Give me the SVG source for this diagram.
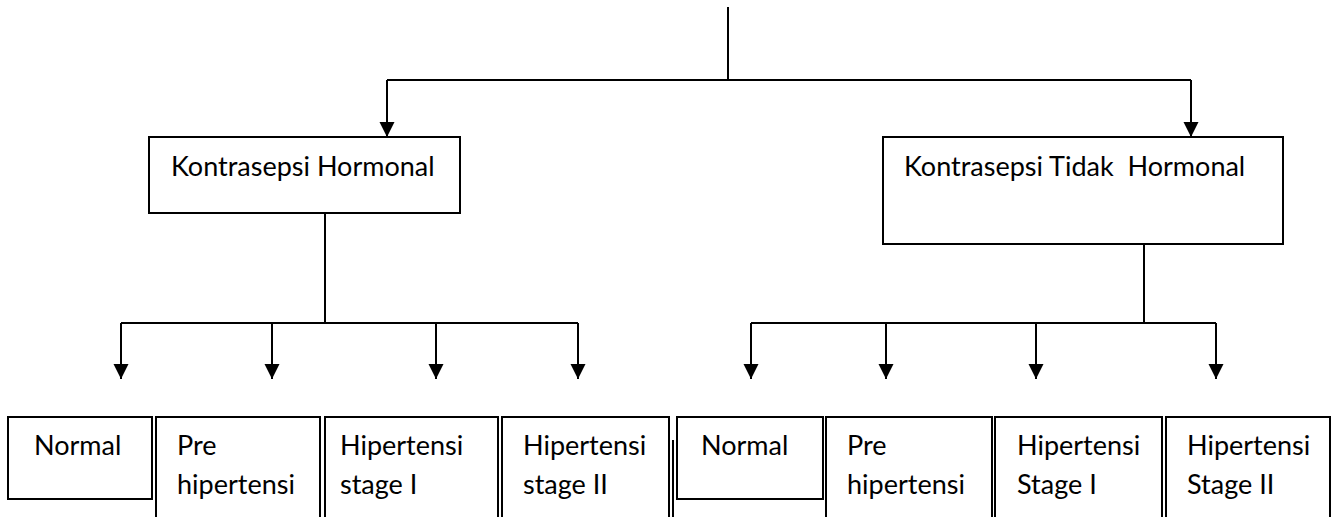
<svg xmlns="http://www.w3.org/2000/svg" width="1331" height="517" viewBox="0 0 1331 517">
<style>
.box{fill:#fff;stroke:#000;stroke-width:2}
.ln{fill:none;stroke:#000;stroke-width:2}
.arr{fill:none;stroke:#000;stroke-width:2;marker-end:url(#ah)}
text{font-family:Lato,"Liberation Sans",sans-serif;font-size:27px;fill:#000}
</style>
<defs>
<marker id="ah" markerUnits="userSpaceOnUse" markerWidth="16" markerHeight="16" refX="15" refY="7.5" orient="auto">
<path d="M0,0 L15,7.5 L0,15 z" fill="#000"/>
</marker>
</defs>
<rect width="1331" height="517" fill="#fff"/>
<g id="connectors">
<path class="ln" d="M728,7 V80 M387,80 H1191"/>
<path class="arr" d="M387,80 V137"/>
<path class="arr" d="M1191,80 V137"/>
<path class="ln" d="M325,213 V323 M121,323 H578"/>
<path class="arr" d="M121,323 V379"/>
<path class="arr" d="M272,323 V379"/>
<path class="arr" d="M436,323 V379"/>
<path class="arr" d="M578,323 V379"/>
<path class="ln" d="M1144,244 V323 M751,323 H1216"/>
<path class="arr" d="M751,323 V379"/>
<path class="arr" d="M886,323 V379"/>
<path class="arr" d="M1036,323 V379"/>
<path class="arr" d="M1216,323 V379"/>
</g>
<g id="kontrasepsi-hormonal">
<rect class="box" x="149" y="137" width="311" height="76"/>
<text x="171" y="176">Kontrasepsi Hormonal</text>
</g>
<g id="kontrasepsi-tidak-hormonal">
<rect class="box" x="883" y="137" width="400" height="107"/>
<text x="904" y="176" xml:space="preserve">Kontrasepsi Tidak  Hormonal</text>
</g>
<g id="normal-1">
<rect class="box" x="8" y="417" width="144" height="82"/>
<text x="34" y="455">Normal</text>
</g>
<g id="prehipertensi-1">
<rect class="box" x="156" y="417" width="164" height="120"/>
<text x="177" y="455">Pre</text>
<text x="177" y="494">hipertensi</text>
</g>
<g id="stage1-1">
<rect class="box" x="325" y="417" width="173" height="120"/>
<text x="340" y="455">Hipertensi</text>
<text x="340" y="494">stage I</text>
</g>
<g id="stage2-1">
<rect class="box" x="502" y="417" width="167" height="120"/>
<text x="523" y="455">Hipertensi</text>
<text x="523" y="494">stage II</text>
</g>
<g id="normal-2">
<path class="ln" d="M673,440 V520"/>
<rect class="box" x="677" y="417" width="146" height="82"/>
<text x="701" y="455">Normal</text>
</g>
<g id="prehipertensi-2">
<rect class="box" x="826" y="417" width="166" height="120"/>
<text x="847" y="455">Pre</text>
<text x="847" y="494">hipertensi</text>
</g>
<g id="stage1-2">
<rect class="box" x="995" y="417" width="167" height="120"/>
<text x="1017" y="455">Hipertensi</text>
<text x="1017" y="494">Stage I</text>
</g>
<g id="stage2-2">
<rect class="box" x="1166" y="417" width="164" height="120"/>
<text x="1187" y="455">Hipertensi</text>
<text x="1187" y="494">Stage II</text>
</g>
</svg>
